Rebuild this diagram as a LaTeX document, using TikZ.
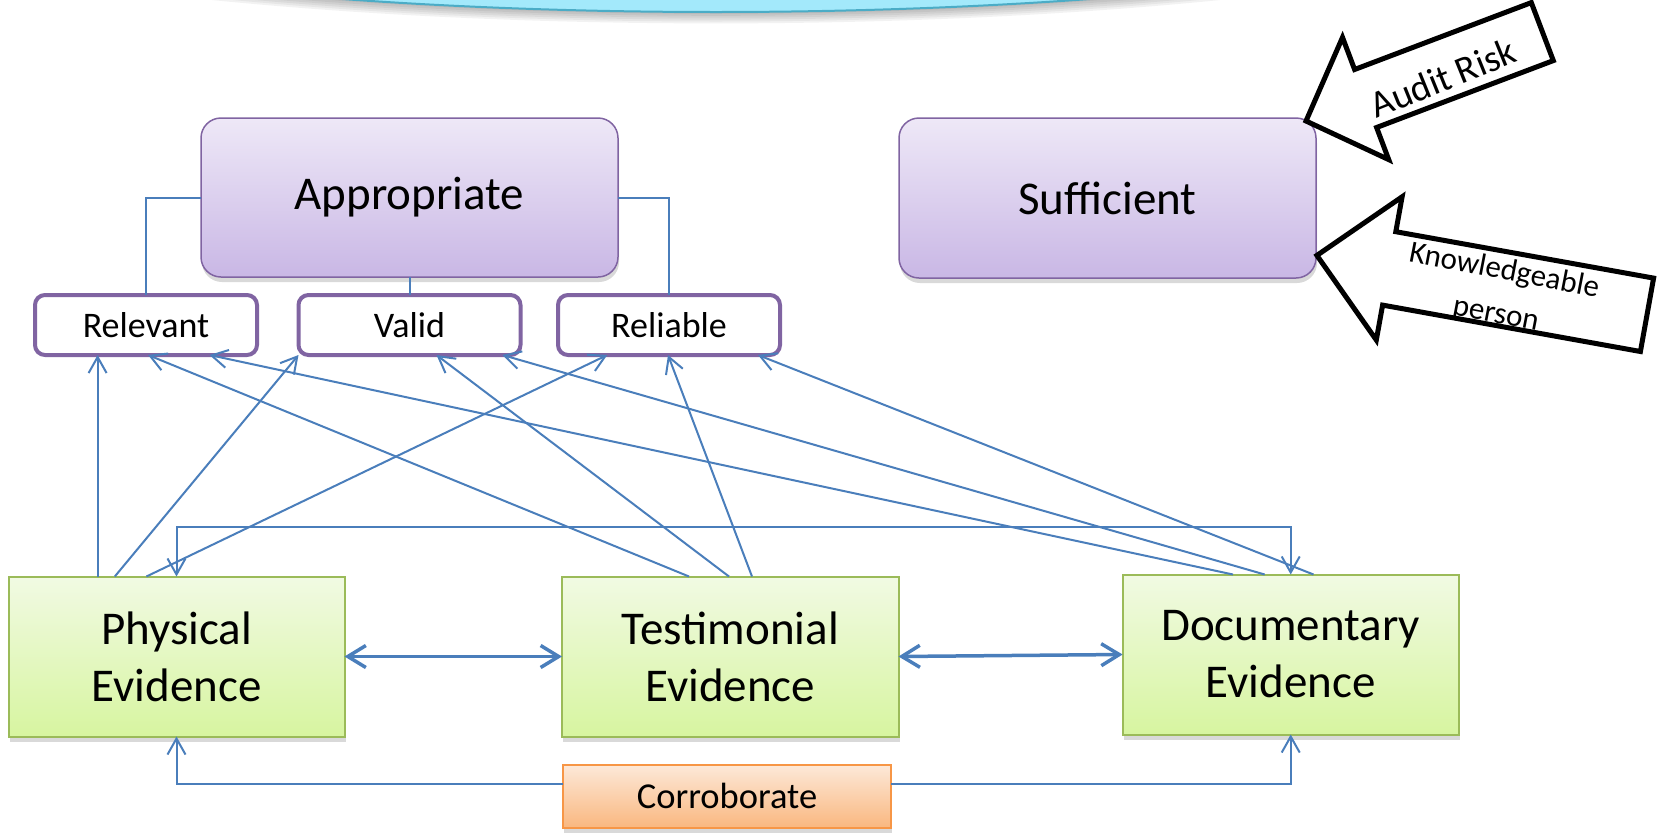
\documentclass[tikz,border=0pt]{standalone}
\usepackage{fontspec}
\setmainfont{Carlito}
\usetikzlibrary{arrows.meta,shadows}
\definecolor{cblue}{HTML}{4A7EBB}
\definecolor{cpurple}{HTML}{8064A2}
\definecolor{ptop}{HTML}{EEE8F7}
\definecolor{pbot}{HTML}{C9B7E5}
\definecolor{cgreen}{HTML}{9BBB59}
\definecolor{gtop}{HTML}{F1FAE3}
\definecolor{gbot}{HTML}{D7F5A0}
\definecolor{corange}{HTML}{F79646}
\definecolor{otop}{HTML}{FDE9D9}
\definecolor{obot}{HTML}{F9B77F}
\definecolor{ccyan}{HTML}{A3E9FB}
\definecolor{ccyanb}{HTML}{4BACC6}
\begin{document}
\begin{tikzpicture}[x=1pt,y=-1pt,
  softshadow/.style={drop shadow={opacity=0.3, shadow xshift=1pt, shadow yshift=-5pt}},
  topbox/.style={draw=cpurple, line width=1.5pt, rounded corners=20pt, top color=ptop, bottom color=pbot,
    minimum width=417pt, minimum height=159pt, anchor=north west, inner sep=0pt, outer sep=0pt,
    font=\fontsize{47}{57}\selectfont, softshadow},
  attrbox/.style={draw=cpurple, line width=4pt, rounded corners=10pt, fill=white,
    minimum width=222pt, minimum height=60pt, anchor=north west, inner sep=0pt, outer sep=0pt,
    font=\fontsize{36}{43}\selectfont},
  evbox/.style={draw=cgreen, line width=2pt, top color=gtop, bottom color=gbot,
    minimum width=336pt, minimum height=160pt, anchor=north west, inner sep=0pt, outer sep=0pt,
    font=\fontsize{47}{57}\selectfont, align=center, softshadow},
  corrbox/.style={draw=corange, line width=2pt, top color=otop, bottom color=obot,
    minimum width=328pt, minimum height=63.5pt, anchor=north west, inner sep=0pt, outer sep=0pt,
    font=\fontsize{36.5}{43}\selectfont, softshadow},
  link/.style={cblue, line width=2pt},
  arr/.style={link, -{Straight Barb[length=16pt,width=18pt]}},
  dblarr/.style={cblue, line width=3.5pt, {Straight Barb[length=18pt,width=22pt]}-{Straight Barb[length=18pt,width=22pt]}},
  bigarrow/.style={draw=black, line width=5pt, fill=white, line join=miter}
]
\useasboundingbox (0,0) rectangle (1657,836);

% top cyan title shape (cut by the top edge)
\begin{scope}
  \clip (0,0) rectangle (1657,836);
  \foreach \i in {1,...,6}{
    \fill[black, opacity=0.05] (716,-168+\i*1.0) ellipse [x radius={1000pt+\i*6pt}, y radius={180pt+\i*0.9pt}];
  }
  \filldraw[fill=ccyan, draw=ccyanb, line width=2pt] (716,-168) ellipse [x radius=1000pt, y radius=180pt];
\end{scope}

% top boxes
\node[topbox] (App) at (201,118) {Appropriate};
\node[topbox, minimum height=160pt] (Suf) at (899,118) {Sufficient};

% attribute boxes
\node[attrbox] (Rel) at (35,295) {Relevant};
\node[attrbox] (Val) at (298.5,295) {Valid};
\node[attrbox] (Rlb) at (558,295) {Reliable};

% evidence boxes
\node[evbox] (Phys) at (8.5,576.5) {Physical\\Evidence};
\node[evbox, minimum width=336.5pt] (Test) at (562,576.5) {Testimonial\\Evidence};
\node[evbox, minimum width=336.2pt] (Doc) at (1122.6,574.5) {Documentary\\Evidence};

% corroborate
\node[corrbox] (Corr) at (563,764.5) {Corroborate};

% big block arrows
\filldraw[bigarrow] (1306,121) -- (1342.5,37.4) -- (1354.6,69.5) -- (1531.3,2.6) -- (1553.3,60.6)
  -- (1376.6,127.5) -- (1388.7,159.6) -- cycle;
\node[rotate=22, font=\fontsize{38}{46}\selectfont, inner sep=0pt] (AR) at (1443,78) {Audit Risk};
\filldraw[bigarrow] (1316.9,255.4) -- (1402.1,196.8) -- (1395.8,231.7) -- (1653.6,278.1) -- (1640.4,351.5)
  -- (1382.6,305.1) -- (1376.3,340.0) -- cycle;
\node[rotate=-11, font=\fontsize{31}{44}\selectfont, inner sep=0pt, align=center] (KP) at (1500,293) {Knowledgeable\\person};

% appropriate to attributes
\draw[link] (App.west) -| (Rel.north);
\draw[link] (App.south) -- (Val.north);
\draw[link] (App.east) -| (Rlb.north);

% anchor points
\coordinate (p1) at ([xshift=89.1pt]Phys.north west);
\coordinate (p2) at ([xshift=106.3pt]Phys.north west);
\coordinate (p3) at ([xshift=137.9pt]Phys.north west);
\coordinate (t1) at ([xshift=127pt]Test.north west);
\coordinate (t2) at ([xshift=167pt]Test.north west);
\coordinate (t3) at ([xshift=190pt]Test.north west);
\coordinate (d1) at ([xshift=110.4pt]Doc.north west);
\coordinate (d2) at ([xshift=142.1pt]Doc.north west);
\coordinate (d3) at ([xshift=190.9pt]Doc.north west);
\coordinate (r1) at ([xshift=62.6pt]Rel.south west);
\coordinate (r2) at ([xshift=113.1pt]Rel.south west);
\coordinate (r3) at ([xshift=174.5pt]Rel.south west);
\coordinate (v1) at (Val.south west);
\coordinate (v2) at ([xshift=138pt]Val.south west);
\coordinate (v3) at ([xshift=204pt]Val.south west);
\coordinate (l1) at ([xshift=49.3pt]Rlb.south west);
\coordinate (l2) at ([xshift=110pt]Rlb.south west);
\coordinate (l3) at ([xshift=200pt]Rlb.south west);

% evidence to attributes
\draw[arr] (p1) -- (r1);
\draw[arr] (p2) -- (v1);
\draw[arr] (p3) -- (l1);
\draw[arr] (t1) -- (r2);
\draw[arr] (t2) -- (v2);
\draw[arr] (t3) -- (l2);
\draw[arr] (d1) -- (r3);
\draw[arr] (d2) -- (v3);
\draw[arr] (d3) -- (l3);

% physical <-> documentary over the top
\draw[link, {Straight Barb[length=16pt,width=18pt]}-{Straight Barb[length=16pt,width=18pt]}]
  (Phys.north) -- ++(0,-50) -| (Doc.north);

% horizontal double arrows
\draw[dblarr] (Phys.east) -- (Test.west);
\draw[dblarr] (Test.east) -- (Doc.west);

% corroborate connectors
\coordinate (cl) at ([yshift=12pt]Corr.west);
\coordinate (cr) at ([yshift=12pt]Corr.east);
\draw[arr] (cl) -| (Phys.south);
\draw[arr] (cr) -| (Doc.south);
\end{tikzpicture}
\end{document}
